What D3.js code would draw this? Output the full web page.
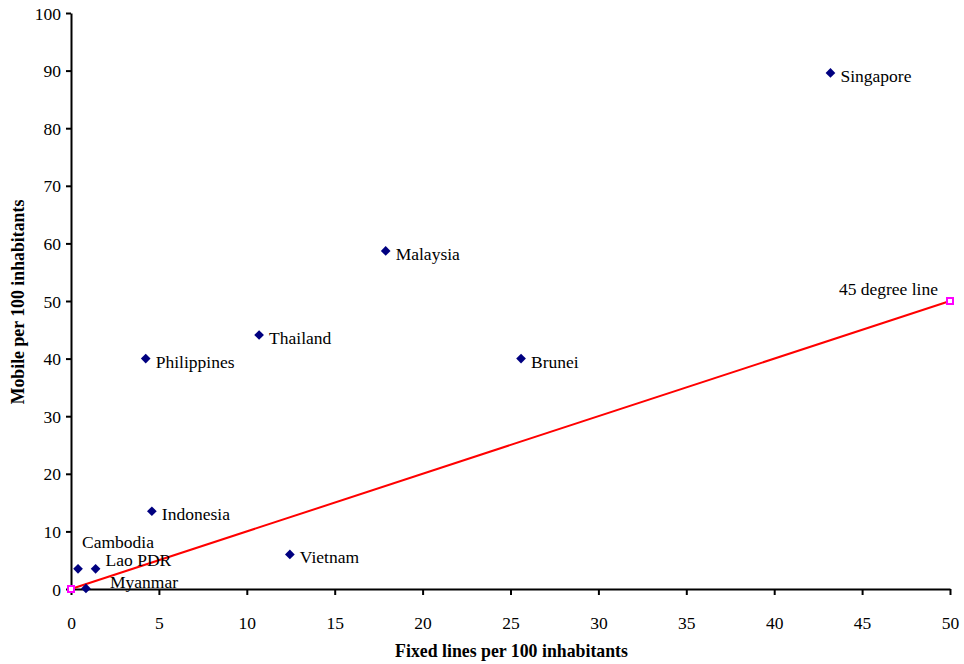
<!DOCTYPE html>
<html>
<head>
<meta charset="utf-8">
<script src="https://cdn.jsdelivr.net/npm/d3@7"></script>
<style>
  body { margin: 0; background: #fff; }
  svg text { font-family: "Liberation Serif", "Times New Roman", serif !important; }
</style>
</head>
<body>
<div id="chart"></div>
<script>
// country data: fixed lines and mobile per 100 inhabitants
var countries = ["Singapore", "Malaysia", "Brunei", "Thailand", "Philippines",
  "Indonesia", "Vietnam", "Cambodia", "Lao PDR", "Myanmar"];
var fixedLines = [43.2, 17.9, 25.6, 10.7, 4.25, 4.6, 12.45, 0.4, 1.4, 0.85];
var mobile = [89.6, 58.7, 40.0, 44.1, 40.0, 13.5, 6.0, 3.5, 3.5, 0.1];

// 45 degree reference line
var refX = [0, 50];
var refY = [0, 50];
var refLabel = "45 degree line";

var xTicks = [0, 5, 10, 15, 20, 25, 30, 35, 40, 45, 50];
var yTicks = [0, 10, 20, 30, 40, 50, 60, 70, 80, 90, 100];

// label offsets in px (layout only)
var labelOffset = {
  "Cambodia": [4, -21],
  "Lao PDR": [10, -3],
  "Myanmar": [24, 0],
  "Indonesia": [10, 9]
};

var fontSize = "17.5px";
var serif = "'Liberation Serif', 'Times New Roman', serif";

var margin = { top: 13, right: 14, bottom: 75, left: 71 },
  width = 964 - margin.left - margin.right,
  height = 664 - margin.top - margin.bottom;

var svg = d3.select("#chart")
  .append("svg")
  .attr("width", 964)
  .attr("height", 664)
  .append("g")
  .attr("transform", "translate(" + margin.left + "," + margin.top + ")");

var x = d3.scaleLinear().domain([0, 50]).range([0, width]);
var y = d3.scaleLinear().domain([0, 100]).range([height, 0]);

// axes
var xAxis = svg.append("g")
  .attr("transform", "translate(0," + height + ")")
  .call(d3.axisBottom(x).tickValues(xTicks).tickSize(6).tickPadding(22).tickSizeOuter(0));
var yAxis = svg.append("g")
  .call(d3.axisLeft(y).tickValues(yTicks).tickSize(5).tickPadding(5).tickSizeOuter(0));

[xAxis, yAxis].forEach(function (a) {
  a.attr("font-family", serif).attr("font-size", null);
  a.select(".domain").attr("stroke", "#000").attr("stroke-width", 2);
  a.selectAll(".tick line").attr("stroke", "#000").attr("stroke-width", 2);
  a.selectAll(".tick text")
    .style("font-family", serif)
    .style("font-size", fontSize)
    .attr("fill", "#000");
});
yAxis.selectAll(".tick text").attr("dy", "0.35em");

// axis titles
svg.append("text")
  .attr("x", width / 2 + 1)
  .attr("y", height + 68)
  .attr("text-anchor", "middle")
  .style("font-size", "17.8px")
  .style("font-weight", "bold")
  .text("Fixed lines per 100 inhabitants");

svg.append("text")
  .attr("transform", "rotate(-90)")
  .attr("x", -(y(50) + 1))
  .attr("y", -47)
  .attr("text-anchor", "middle")
  .style("font-size", "17.8px")
  .style("font-weight", "bold")
  .text("Mobile per 100 inhabitants");

// 45 degree line
var refData = refX.map(function (d, i) { return { x: d, y: refY[i] }; });
svg.append("path")
  .datum(refData)
  .attr("fill", "none")
  .attr("stroke", "#ff0000")
  .attr("stroke-width", 2)
  .attr("d", d3.line().x(function (d) { return x(d.x); }).y(function (d) { return y(d.y); }));

svg.selectAll(".refpt")
  .data(refData)
  .enter()
  .append("rect")
  .attr("x", function (d) { return x(d.x) - 3; })
  .attr("y", function (d) { return y(d.y) - 3; })
  .attr("width", 6)
  .attr("height", 6)
  .attr("fill", "#fff")
  .attr("stroke", "#ff00ff")
  .attr("stroke-width", 2);

svg.append("text")
  .attr("x", x(refX[1]) - 12)
  .attr("y", y(refY[1]) - 6)
  .attr("text-anchor", "end")
  .style("font-size", fontSize)
  .text(refLabel);

// country points
var data = countries.map(function (c, i) {
  return { name: c, fx: fixedLines[i], mob: mobile[i] };
});

svg.selectAll(".pt")
  .data(data)
  .enter()
  .append("path")
  .attr("d", d3.symbol().type(d3.symbolDiamond2).size(60))
  .attr("transform", function (d) { return "translate(" + x(d.fx) + "," + y(d.mob) + ")"; })
  .attr("fill", "#000080");

svg.selectAll(".lbl")
  .data(data)
  .enter()
  .append("text")
  .attr("x", function (d) {
    var o = labelOffset[d.name] || [10, 9];
    return x(d.fx) + o[0];
  })
  .attr("y", function (d) {
    var o = labelOffset[d.name] || [10, 9];
    return y(d.mob) + o[1];
  })
  .style("font-size", fontSize)
  .attr("fill", "#000")
  .text(function (d) { return d.name; });
</script>
</body>
</html>
